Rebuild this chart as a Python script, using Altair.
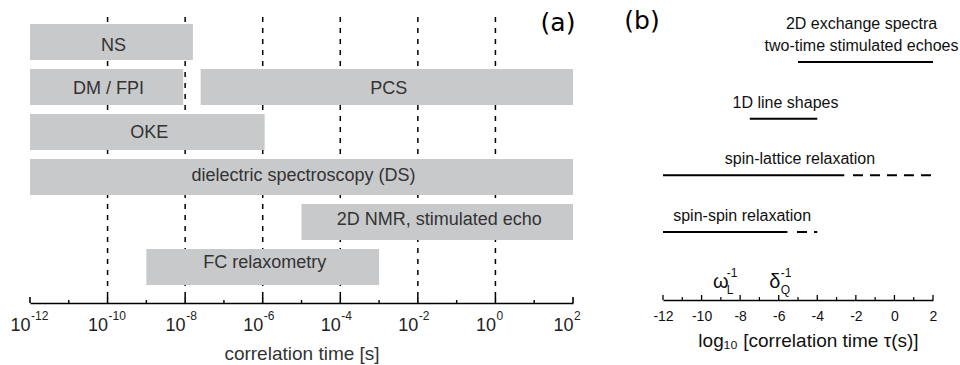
import altair as alt
import pandas as pd

FONT = "Liberation Sans"

# ---- panel (a): time windows of the methods, log10 of the limits in seconds ----
methods = ["NS", "DM / FPI", "PCS", "OKE", "dielectric spectroscopy (DS)",
           "2D NMR, stimulated echo", "FC relaxometry"]
method_rows = [0, 1, 1, 2, 3, 4, 5]
method_lo = [-12, -12, -7.6, -12, -12, -5, -9]
method_hi = [-7.8, -8.05, 2, -5.95, 2, 2, -3]

decade_major = [-12, -10, -8, -6, -4, -2, 0, 2]
decade_minor = [-11, -9, -7, -5, -3, -1, 1]
decade_grid = [-10, -8, -6, -4, -2, 0]
decade_exponents = ["-12", "-10", "-8", "-6", "-4", "-2", "0", "2"]

# ---- panel (b): NMR techniques ----
nmr_rows = ["exchange", "lineshape", "t1", "t2"]
nmr_labels = ["2D exchange spectra\ntwo-time stimulated echoes", "1D line shapes",
              "spin-lattice relaxation", "spin-spin relaxation"]
nmr_label_lines = [2, 1, 1, 1]
nmr_solid_lo = [-5, -7.5, -12, -12]
nmr_solid_hi = [2, -4, -2.6, -5.55]
nmr_full_hi = [2, -4, 2, -4]
nmr_dash_rows = ["t1", "t2"]
nmr_dash_lo = [-2.15, -5.05]
nmr_dash_hi = [2, -4]

lin_major = [-12, -10, -8, -6, -4, -2, 0, 2]
lin_minor = [-11, -9, -7, -5, -3, -1, 1]

rate_symbols = ["ω", "δ"]
rate_subscripts = ["L", "Q"]
rate_positions = [-9, -6.2]

# ---- scales ----
A_RANGE = [0, 543]
B_RANGE = [633, 903]
DOM = [-12, 2]


def xa(field, axis=None):
    return alt.X(field, type="quantitative",
                 scale=alt.Scale(domain=DOM, range=A_RANGE, nice=False, zero=False),
                 axis=axis)


def xb(field, axis=None):
    return alt.X(field, type="quantitative",
                 scale=alt.Scale(domain=DOM, range=B_RANGE, nice=False, zero=False),
                 axis=axis)


def x2(field):
    return alt.X2(field)


bars = pd.DataFrame({"method": methods, "row": method_rows,
                     "lo": method_lo, "hi": method_hi})
y_rows = alt.Y("row:O", scale=alt.Scale(domain=[0, 1, 2, 3, 4, 5], range=[24, 285],
                                         paddingInner=0.2, paddingOuter=0), axis=None)

grid = alt.Chart(pd.DataFrame({"e": decade_grid})).mark_rule(
    color="black", strokeWidth=1.5, strokeDash=[5, 6]
).encode(x=xa("e"), y=alt.value(17), y2=alt.value(303))

rects = alt.Chart(bars).mark_rect(color="#c8c9cb").encode(
    x=xa("lo"), x2=x2("hi"), y=y_rows)

bar_text = alt.Chart(bars).transform_calculate(mid="(datum.lo + datum.hi) / 2").mark_text(
    font=FONT, fontSize=18, color="#333333", baseline="middle", dx=2
).encode(x=xa("mid"), y=y_rows, text="method:N")

axis_a = alt.Axis(orient="bottom", values=decade_major, labelExpr="'10'",
                  labelAlign="right", labelBaseline="alphabetic", labelPadding=27,
                  labelFont=FONT, labelFontSize=18, labelColor="#222222",
                  ticks=False, tickSize=0, domain=True, domainColor="black",
                  domainWidth=1.6, grid=False, labelFlush=False,
                  title="correlation time [s]", titleFont=FONT, titleFontSize=19,
                  titleFontWeight="normal", titleColor="#333333",
                  titleBaseline="alphabetic", titleY=56)

ticks_a = alt.Chart(pd.DataFrame({"e": decade_major})).mark_rule(
    color="black", strokeWidth=1.6
).encode(x=xa("e", axis_a), y=alt.value(303), y2=alt.value(297))

minor_a = alt.Chart(pd.DataFrame({"e": decade_minor})).mark_rule(
    color="black", strokeWidth=1.4
).encode(x=xa("e"), y=alt.value(303), y2=alt.value(300))

exps = alt.Chart(pd.DataFrame({"e": decade_major, "lab": decade_exponents})).mark_text(
    font=FONT, fontSize=12, color="#222222", align="left", baseline="alphabetic", dx=1
).encode(x=xa("e"), y=alt.value(320), text="lab:N")

tag_a = alt.Chart(pd.DataFrame({"t": ["(a)"]})).mark_text(
    font="DejaVu Sans", fontSize=25, color="black", baseline="alphabetic"
).encode(x=alt.value(528), y=alt.value(31), text="t:N")

# ---- panel (b) layers ----
nmr = pd.DataFrame({"row": nmr_rows, "label": nmr_labels, "lines": nmr_label_lines,
                    "lo": nmr_solid_lo, "hi": nmr_solid_hi, "full": nmr_full_hi})
nmr_dash = pd.DataFrame({"row": nmr_dash_rows, "lo": nmr_dash_lo, "hi": nmr_dash_hi})
y_nmr = alt.Y("row:N", scale=alt.Scale(type="point", domain=nmr_rows, range=[62, 232],
                                       padding=0), axis=None)

solid = alt.Chart(nmr).mark_rule(color="black", strokeWidth=2).encode(
    x=xb("lo"), x2=x2("hi"), y=y_nmr)
dashed = alt.Chart(nmr_dash).mark_rule(color="black", strokeWidth=2,
                                       strokeDash=[10, 7]).encode(
    x=xb("lo"), x2=x2("hi"), y=y_nmr)

nmr_base = alt.Chart(nmr).transform_calculate(mid="(datum.lo + datum.full) / 2")
label_style = dict(font=FONT, fontSize=16, color="#111111", baseline="bottom",
                   lineBreak="\n", lineHeight=22)
nmr_text_single = nmr_base.transform_filter("datum.lines == 1").mark_text(
    dy=-8, dx=2, **label_style
).encode(x=xb("mid"), y=y_nmr, text="label:N")
nmr_text_double = nmr_base.transform_filter("datum.lines == 2").mark_text(
    dy=-30, dx=-4, **label_style
).encode(x=xb("mid"), y=y_nmr, text="label:N")

axis_b = alt.Axis(orient="bottom", values=lin_major,
                  labelExpr="datum.value < 0 ? '-' + abs(datum.value) : '' + datum.value",
                  labelBaseline="alphabetic", labelPadding=20, labelFont=FONT,
                  labelFontSize=14, labelColor="#111111", ticks=False, tickSize=0,
                  domain=True, domainColor="black", domainWidth=1.4, grid=False,
                  offset=-3, labelFlush=False,
                  title="log₁₀ [correlation time τ(s)]", titleFont=FONT,
                  titleFontSize=19, titleFontWeight="normal", titleColor="#111111",
                  titleBaseline="alphabetic", titleY=46, titleX=778)

ticks_b = alt.Chart(pd.DataFrame({"v": lin_major})).mark_rule(
    color="black", strokeWidth=1.3
).encode(x=xb("v", axis_b), y=alt.value(300), y2=alt.value(295))
minor_b = alt.Chart(pd.DataFrame({"v": lin_minor})).mark_rule(
    color="black", strokeWidth=1.2
).encode(x=xb("v"), y=alt.value(300), y2=alt.value(297))

rates = pd.DataFrame({"sym": rate_symbols, "sub": rate_subscripts, "pos": rate_positions})
rate_sym = alt.Chart(rates).mark_text(
    font=FONT, fontSize=20, color="#111111", baseline="alphabetic"
).encode(x=xb("pos"), y=alt.value(288), text="sym:N")
rate_sub = alt.Chart(rates).mark_text(
    font=FONT, fontSize=12, color="#111111", baseline="alphabetic", align="left", dx=6
).encode(x=xb("pos"), y=alt.value(294), text="sub:N")
rate_sup = alt.Chart(rates).transform_calculate(p="'-1'").mark_text(
    font=FONT, fontSize=12, color="#111111", baseline="alphabetic", align="left", dx=6
).encode(x=xb("pos"), y=alt.value(277), text="p:N")

tag_b = alt.Chart(pd.DataFrame({"t": ["(b)"]})).mark_text(
    font="DejaVu Sans", fontSize=25, color="black", baseline="alphabetic"
).encode(x=alt.value(612), y=alt.value(29), text="t:N")

chart = alt.layer(
    grid, rects, bar_text, ticks_a, minor_a, exps, tag_a,
    solid, dashed, nmr_text_single, nmr_text_double, ticks_b, minor_b,
    rate_sym, rate_sub, rate_sup, tag_b
).resolve_scale(x="independent", y="independent").properties(
    width=903, height=303,
    padding={"left": 30, "top": 0, "right": 27, "bottom": 62},
    autosize=alt.AutoSizeParams(type="none"),
    background="white",
).configure_view(stroke=None)

chart.save("out.html", embed_options={"renderer": "svg", "actions": False})
